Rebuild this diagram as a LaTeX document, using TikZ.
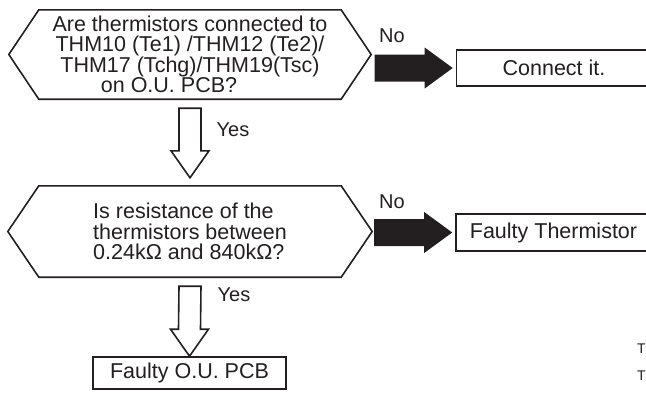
\documentclass[tikz,border=0pt]{standalone}
\usepackage{fontspec}
\setmainfont{Liberation Sans}
\usetikzlibrary{calc,positioning}
\definecolor{ink}{HTML}{231F20}
\tikzset{
  query/.style={minimum width=302pt,minimum height=89pt,inner sep=0pt,align=center},
  hexline/.style={draw=ink,line width=1.6pt,line join=miter},
  result/.style={draw=ink,line width=1.6pt,minimum width=195pt,minimum height=36pt,inner sep=0pt},
  lbl/.style={inner sep=0pt,font=\fontsize{20}{20}\selectfont},
  edgetext/.style={anchor=base west,inner sep=0pt,font=\fontsize{14}{14}\selectfont},
  noarrow/.style={fill=ink,to path={
    ($(\tikztostart)+(0pt,13.5pt)$) -- ($(\tikztotarget)+(-31pt,13.5pt)$)
    -- ($(\tikztotarget)+(-31pt,20.5pt)$) -- ($(\tikztotarget)+(-3pt,0pt)$)
    -- ($(\tikztotarget)+(-31pt,-20.5pt)$) -- ($(\tikztotarget)+(-31pt,-13.5pt)$)
    -- ($(\tikztostart)+(0pt,-13.5pt)$) -- cycle}},
  yesarrow/.style={draw=ink,line width=1.6pt,line join=miter,to path={
    ($(\tikztostart)+(-11pt,0pt)$) -- ($(\tikztotarget)+(-11pt,27pt)$)
    -- ($(\tikztotarget)+(-19pt,27pt)$) -- (\tikztotarget)
    -- ($(\tikztotarget)+(19pt,27pt)$) -- ($(\tikztotarget)+(11pt,27pt)$)
    -- ($(\tikztostart)+(11pt,0pt)$) -- cycle}}
}

\begin{document}
\begin{tikzpicture}[x=1pt,y=-1pt,color=ink,font=\fontsize{21.5}{20.5}\selectfont]
  \useasboundingbox (0,0) rectangle (646,392);

  % first check: are the sensors plugged in
  \node[query] (q1) at (190,54.5)
    {Are thermistors connected to\\THM10 (Te1) /THM12 (Te2)/\\THM17 (Tchg)/THM19(Tsc)\\on O.U. PCB?\hspace*{42pt}};
  \draw[hexline] (q1.north west) -- (q1.north east) -- ([xshift=30pt]q1.east)
    -- (q1.south east) -- (q1.south west) -- ([xshift=-30pt]q1.west) -- cycle;
  \node[result] (c1) at (554,68) {Connect it.};

  % second check: resistance range
  \node[query,minimum height=91pt,align=left] (q2) at (190,231.5)
    {Is resistance of the\\thermistors between\\0.24kΩ and 840kΩ?};
  \draw[hexline] (q2.north west) -- (q2.north east) -- ([xshift=31pt]q2.east)
    -- (q2.south east) -- (q2.south west) -- ([xshift=-31pt]q2.west) -- cycle;
  \node[result,minimum height=37pt] (f1) at (553.5,232.5) {Faulty Thermistor};

  \node[result,minimum width=193pt,minimum height=32pt] (f2) at (189.5,373) {Faulty O.U. PCB};

  % No branches
  \coordinate (n1) at ([xshift=-81pt]c1.west);
  \coordinate (n2) at ([xshift=-81pt]f1.west);
  \fill[noarrow] (n1) to (c1.west);
  \fill[noarrow] (n2) to (f1.west);
  \node[lbl] (no1) at (392,36) {No};
  \node[lbl] (no2) at (392,202) {No};

  % Yes branches
  \coordinate (ya) at ([yshift=-9pt]q1.south);
  \coordinate (yb) at ([yshift=8pt]q2.north);
  \coordinate (yc) at ([yshift=-9pt]q2.south);
  \draw[yesarrow] (ya) to (yb);
  \draw[yesarrow] (yc) to (f2.north);
  \node[lbl] (yes1) at (233,130) {Yes};
  \node[lbl] (yes2) at (234,295) {Yes};

  % letters at the right edge
  \node[edgetext] (t1) at (637,353) {T};
  \node[edgetext] (t2) at (637,380) {T};
\end{tikzpicture}
\end{document}
